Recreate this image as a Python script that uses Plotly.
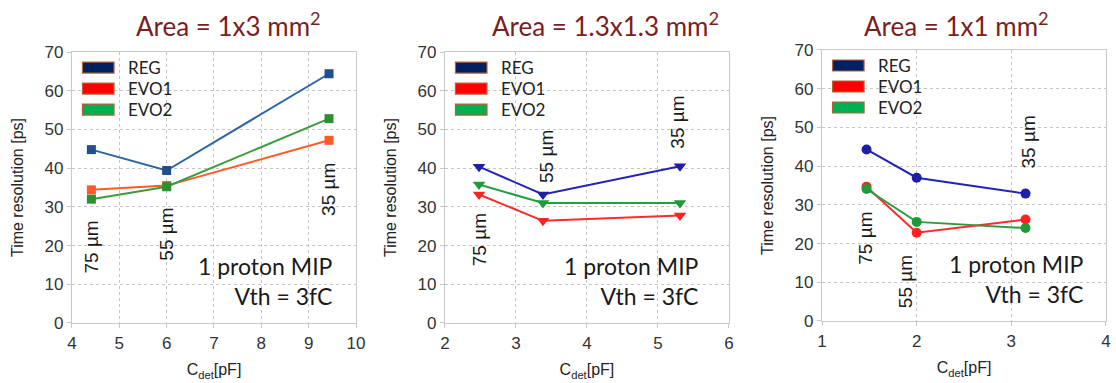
import plotly.graph_objects as go

# ---------------- data ----------------
series_names = ["REG", "EVO1", "EVO2"]
thickness_labels = ["75 µm", "55 µm", "35 µm"]

# Panel 1: Area = 1x3 mm2
cdet_1x3 = [4.41, 6.0, 9.43]
reg_1x3 = [44.8, 39.4, 64.4]
evo1_1x3 = [34.4, 35.5, 47.2]
evo2_1x3 = [32.0, 35.2, 52.8]

# Panel 2: Area = 1.3x1.3 mm2
cdet_13x13 = [2.48, 3.38, 5.31]
reg_13x13 = [40.4, 33.2, 40.5]
evo1_13x13 = [33.2, 26.4, 27.8]
evo2_13x13 = [35.8, 31.0, 31.0]

# Panel 3: Area = 1x1 mm2
cdet_1x1 = [1.47, 2.0, 3.15]
reg_1x1 = [44.3, 37.0, 32.9]
evo1_1x1 = [34.7, 22.8, 26.2]
evo2_1x1 = [34.1, 25.6, 24.0]

titles = ["Area = 1x3 mm<sup>2</sup>", "Area = 1.3x1.3 mm<sup>2</sup>", "Area = 1x1 mm<sup>2</sup>"]
x_ranges = [[4, 10], [2, 6], [1, 4]]
x_dticks = [1, 1, 1]
y_range = [0, 70]

# thickness label anchor positions (data coords) per panel
label_x = [[4.41, 6.0, 9.43], [2.48, 3.42, 5.27], [1.46, 1.89, 3.18]]
label_y = [[19.6, 23.0, 34.4], [21.4, 43.1, 51.8], [21.4, 10.1, 46.2]]

# ---------------- styles ----------------
panels = [
    dict(x=cdet_1x3, ys=[reg_1x3, evo1_1x3, evo2_1x3], symbol="square", msize=9,
         lcolors=["#2d64a5", "#ff5a28", "#3c9c3c"], mcolors=["#1f4f8f", "#ff5a28", "#2e8e32"]),
    dict(x=cdet_13x13, ys=[reg_13x13, evo1_13x13, evo2_13x13], symbol="triangle-down", msize=11,
         lcolors=["#2323b8", "#ff2a2a", "#22a03c"], mcolors=["#1e1ea8", "#ff2222", "#1f9a38"]),
    dict(x=cdet_1x1, ys=[reg_1x1, evo1_1x1, evo2_1x1], symbol="circle", msize=10,
         lcolors=["#2323b8", "#ff2a2a", "#2a9c42"], mcolors=["#1e1ea8", "#ff2222", "#1f9a38"]),
]
swatch_colors = ["#002060", "#ff0000", "#00b050"]

x_domains = [[0.0645, 0.319], [0.3987, 0.6532], [0.7366, 0.991]]
y_domains = [[0.1567, 0.864], [0.1567, 0.864], [0.1619, 0.8695]]

title_font = dict(family="Lato, 'Noto Sans', sans-serif", size=26, color="#7a1e1e")
ann_font = dict(family="Lato, 'Noto Sans', sans-serif", size=23, color="#1a1a1a")
tick_font = dict(family="Liberation Sans, Arial, sans-serif", size=17, color="#333333")
lab_font = dict(family="Liberation Sans, Arial, sans-serif", size=16, color="#222222")

fig = go.Figure()
layout = dict(
    width=1116, height=383, autosize=False,
    margin=dict(l=0, r=0, t=0, b=0, pad=0, autoexpand=False),
    paper_bgcolor="white", plot_bgcolor="white",
    showlegend=False,
)
annotations = []
shapes = []

for i, p in enumerate(panels):
    sfx = "" if i == 0 else str(i + 1)
    xa, ya = "x" + sfx, "y" + sfx
    for j, name in enumerate(series_names):
        fig.add_trace(go.Scatter(
            x=p["x"], y=p["ys"][j], name=name, mode="lines+markers",
            line=dict(color=p["lcolors"][j], width=2),
            marker=dict(symbol=p["symbol"], size=p["msize"], color=p["mcolors"][j]),
            xaxis=xa, yaxis=ya,
        ))
    axis_common = dict(
        showgrid=True, gridcolor="#c4c4c4", griddash="dot", gridwidth=1,
        showline=True, linecolor="#c8c8c8", linewidth=1.3, mirror=True,
        ticks="outside", ticklen=4, tickcolor="#c8c8c8",
        tickfont=tick_font, zeroline=False, automargin=False,
    )
    layout["xaxis" + sfx] = dict(
        axis_common, domain=x_domains[i], range=x_ranges[i], dtick=x_dticks[i],
        anchor=ya,
        title=dict(text="C<sub>det</sub>[pF]", font=lab_font, standoff=12),
    )
    layout["yaxis" + sfx] = dict(
        axis_common, domain=y_domains[i], range=y_range, dtick=10,
        anchor=xa,
        title=dict(text="Time resolution [ps]", font=lab_font, standoff=16),
    )
    # panel title
    xc = [0.205, 0.543, 0.857][i]
    annotations.append(dict(text=titles[i], xref="paper", yref="paper",
                            x=xc, y=1 - 25 / 383, xanchor="center", yanchor="middle",
                            showarrow=False, font=title_font))
    # thickness labels
    for k, t in enumerate(thickness_labels):
        annotations.append(dict(text=t, xref=xa, yref=ya, x=label_x[i][k], y=label_y[i][k],
                                textangle=-90, showarrow=False,
                                font=dict(family="Liberation Sans, Arial, sans-serif", size=19, color="#1a1a1a")))
    # condition text
    annotations.append(dict(text="1 proton MIP<br>Vth = 3fC", xref=xa + " domain", yref=ya + " domain",
                            x=[0.925, 0.9, 0.93][i], y=0.155, xanchor="right", yanchor="middle",
                            align="right", showarrow=False, font=ann_font))
    # manual legend
    rows_top = [10, 31, 52]
    for j, name in enumerate(series_names):
        top = 1 - rows_top[j] / 271
        bot = 1 - (rows_top[j] + 11) / 271
        shapes.append(dict(type="rect", xref=xa + " domain", yref=ya + " domain",
                           x0=0.037, x1=0.148, y0=bot, y1=top,
                           fillcolor=swatch_colors[j], line=dict(color="#b5623a", width=1.2)))
        annotations.append(dict(text=name, xref=xa + " domain", yref=ya + " domain",
                                x=0.19, y=(top + bot) / 2, xanchor="left", yanchor="middle",
                                showarrow=False,
                                font=dict(family="Lato, 'Noto Sans', sans-serif", size=17, color="#222222")))

layout["annotations"] = annotations
layout["shapes"] = shapes
fig.update_layout(**layout)
fig.write_html("out.html", config={"displayModeBar": False},
               post_script="document.body.style.margin='0';document.body.style.padding='0';")
